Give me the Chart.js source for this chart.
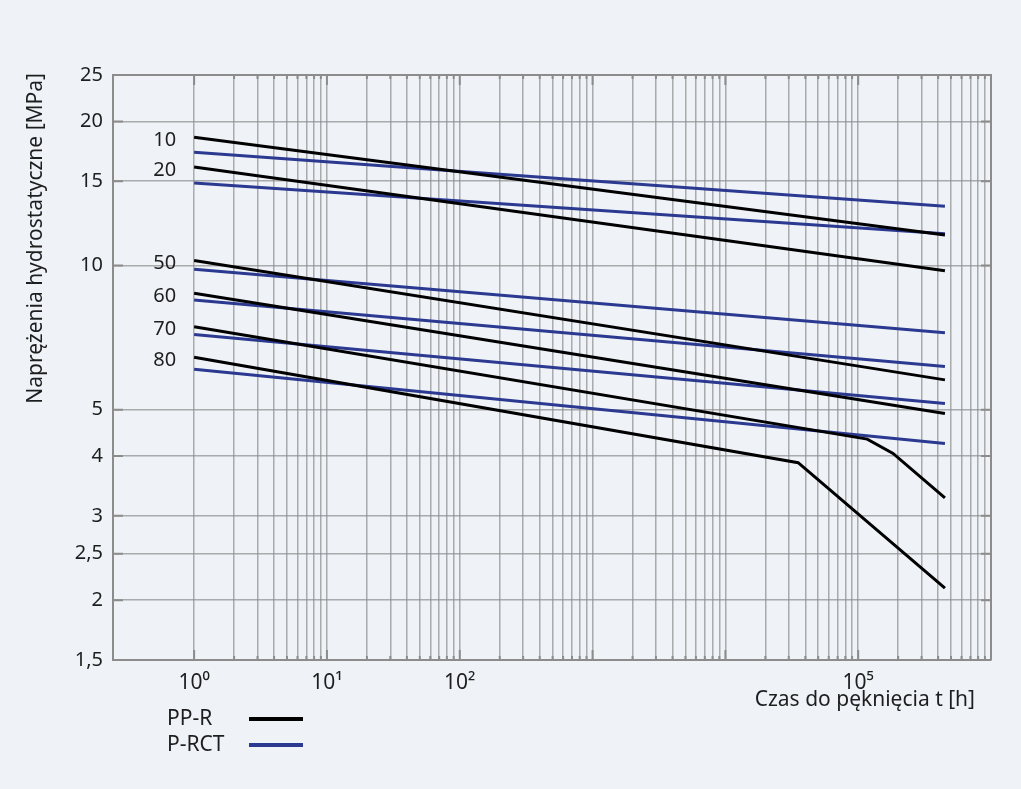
<!DOCTYPE html>
<html>
<head>
<meta charset="utf-8">
<script src="https://cdn.jsdelivr.net/npm/chart.js@4"></script>
<style>
  body { margin: 0; background: #eff3f8; }
  #wrap { width: 1021px; height: 789px; }
</style>
</head>
<body>
<div id="wrap"><canvas id="chart"></canvas></div>
<script>
// temperatures [°C] labelling each pair of curves
const temps = ["10", "20", "50", "60", "70", "80"];

// PP-R curves: [time h, stress MPa]
const pprCurves = [
  [[1, 18.53], [450000, 11.58]],
  [[1, 16.07], [450000, 9.75]],
  [[1, 10.24], [450000, 5.77]],
  [[1, 8.75], [450000, 4.91]],
  [[1, 7.45], [117000, 4.34], [183000, 4.05], [450000, 3.27]],
  [[1, 6.43], [35300, 3.875], [450000, 2.12]],
];

// P-RCT curves
const prctCurves = [
  [[1, 17.24], [450000, 13.3]],
  [[1, 14.87], [450000, 11.65]],
  [[1, 9.82], [450000, 7.24]],
  [[1, 8.47], [450000, 6.15]],
  [[1, 7.18], [450000, 5.15]],
  [[1, 6.07], [450000, 4.25]],
];

const seriesNames = ["PP-R", "P-RCT"];
const seriesColors = ["#000000", "#2b3990"];

const xTickLabels = { 1: "10⁰", 10: "10¹", 100: "10²", 100000: "10⁵" };
const yTicks = [1.5, 2, 2.5, 3, 4, 5, 10, 15, 20, 25];
const yTickLabels = ["1,5", "2", "2,5", "3", "4", "5", "10", "15", "20", "25"];

const xTitle = "Czas do pęknięcia t [h]";
const yTitle = "Naprężenia hydrostatyczne [MPa]";

const FONT = "'Noto Sans', sans-serif";
const TEXT = "#1e1e1e";
const FRAME = "#8c8c8c";

// 1..9 x 10^n grid for the time axis
const xGrid = [];
for (let n = 0; n <= 5; n++) {
  for (let m = 1; m <= 9; m++) xGrid.push(m * Math.pow(10, n));
}
xGrid.push(1000000);

const datasets = [];
pprCurves.forEach((c, i) => {
  datasets.push({
    label: seriesNames[0] + " " + temps[i],
    data: c.map(p => ({ x: p[0], y: p[1] })),
    borderColor: seriesColors[0],
    borderWidth: 3,
  });
});
prctCurves.forEach((c, i) => {
  datasets.push({
    label: seriesNames[1] + " " + temps[i],
    data: c.map(p => ({ x: p[0], y: p[1] })),
    borderColor: seriesColors[1],
    borderWidth: 3,
  });
});

const extras = {
  id: "extras",
  afterDraw(chart) {
    const ctx = chart.ctx;
    const a = chart.chartArea;
    const xs = chart.scales.x;
    const ys = chart.scales.y;
    ctx.save();

    // frame top + right
    ctx.strokeStyle = FRAME;
    ctx.lineWidth = 2;
    ctx.beginPath();
    ctx.moveTo(a.left, a.top);
    ctx.lineTo(a.right, a.top);
    ctx.lineTo(a.right, a.bottom);
    ctx.stroke();

    // inner tick marks
    xGrid.forEach(v => {
      const px = xs.getPixelForValue(v);
      const major = Math.abs(Math.log10(v) - Math.round(Math.log10(v))) < 1e-9;
      const len = major ? 10 : 4;
      ctx.beginPath();
      ctx.moveTo(px, a.bottom);
      ctx.lineTo(px, a.bottom - len);
      ctx.moveTo(px, a.top);
      ctx.lineTo(px, a.top + len);
      ctx.stroke();
    });
    yTicks.forEach(v => {
      const py = ys.getPixelForValue(v);
      ctx.beginPath();
      ctx.moveTo(a.left, py);
      ctx.lineTo(a.left + 10, py);
      ctx.moveTo(a.right, py);
      ctx.lineTo(a.right - 10, py);
      ctx.stroke();
    });

    // temperature labels at the start of each PP-R curve
    ctx.fillStyle = TEXT;
    ctx.font = "20px " + FONT;
    ctx.textAlign = "right";
    ctx.textBaseline = "middle";
    const x0 = xs.getPixelForValue(1) - 18;
    pprCurves.forEach((c, i) => {
      ctx.fillText(temps[i], x0, ys.getPixelForValue(c[0][1]) + 3);
    });

    // axis titles
    ctx.font = "21px " + FONT;
    ctx.textAlign = "right";
    ctx.fillText(xTitle, 975, 700);
    ctx.save();
    ctx.translate(36, 73);
    ctx.rotate(-Math.PI / 2);
    ctx.fillText(yTitle, 0, 0);
    ctx.restore();

    // legend
    const ly = [719, 745];
    seriesNames.forEach((name, i) => {
      ctx.textAlign = "left";
      ctx.fillStyle = TEXT;
      ctx.font = "21px " + FONT;
      ctx.fillText(name, 167, ly[i]);
      ctx.strokeStyle = seriesColors[i];
      ctx.lineWidth = 4;
      ctx.beginPath();
      ctx.moveTo(249, ly[i]);
      ctx.lineTo(303, ly[i]);
      ctx.stroke();
    });

    ctx.restore();
  },
};

new Chart(document.getElementById("chart"), {
  type: "scatter",
  data: { datasets },
  plugins: [extras],
  options: {
    responsive: true,
    maintainAspectRatio: false,
    animation: false,
    showLine: true,
    layout: { padding: { top: 75, right: 30, left: 0, bottom: 0 } },
    elements: {
      point: { radius: 0, hoverRadius: 0 },
      line: { tension: 0, fill: false },
    },
    plugins: {
      legend: { display: false },
      tooltip: { enabled: false },
    },
    scales: {
      x: {
        type: "logarithmic",
        min: 0.245,
        max: 1000000,
        afterBuildTicks: s => { s.ticks = xGrid.map(v => ({ value: v })); },
        afterFit: s => { s.height = 129; },
        ticks: {
          autoSkip: false,
          maxRotation: 0,
          padding: 10,
          color: TEXT,
          font: { family: FONT, size: 21 },
          callback: v => xTickLabels[v] || "",
        },
        grid: {
          drawTicks: false,
          color: "rgba(140,140,140,0.7)",
          lineWidth: 1.5,
        },
        border: { display: true, color: FRAME, width: 2 },
      },
      y: {
        type: "logarithmic",
        min: 1.5,
        max: 25,
        afterBuildTicks: s => { s.ticks = yTicks.map(v => ({ value: v })); },
        afterFit: s => { s.width = 113; },
        ticks: {
          autoSkip: false,
          padding: 10,
          color: TEXT,
          font: { family: FONT, size: 20 },
          callback: (v, i) => yTickLabels[i],
        },
        grid: {
          drawTicks: false,
          color: "rgba(140,140,140,0.7)",
          lineWidth: 1.5,
        },
        border: { display: true, color: FRAME, width: 2 },
      },
    },
  },
});
</script>
</body>
</html>
